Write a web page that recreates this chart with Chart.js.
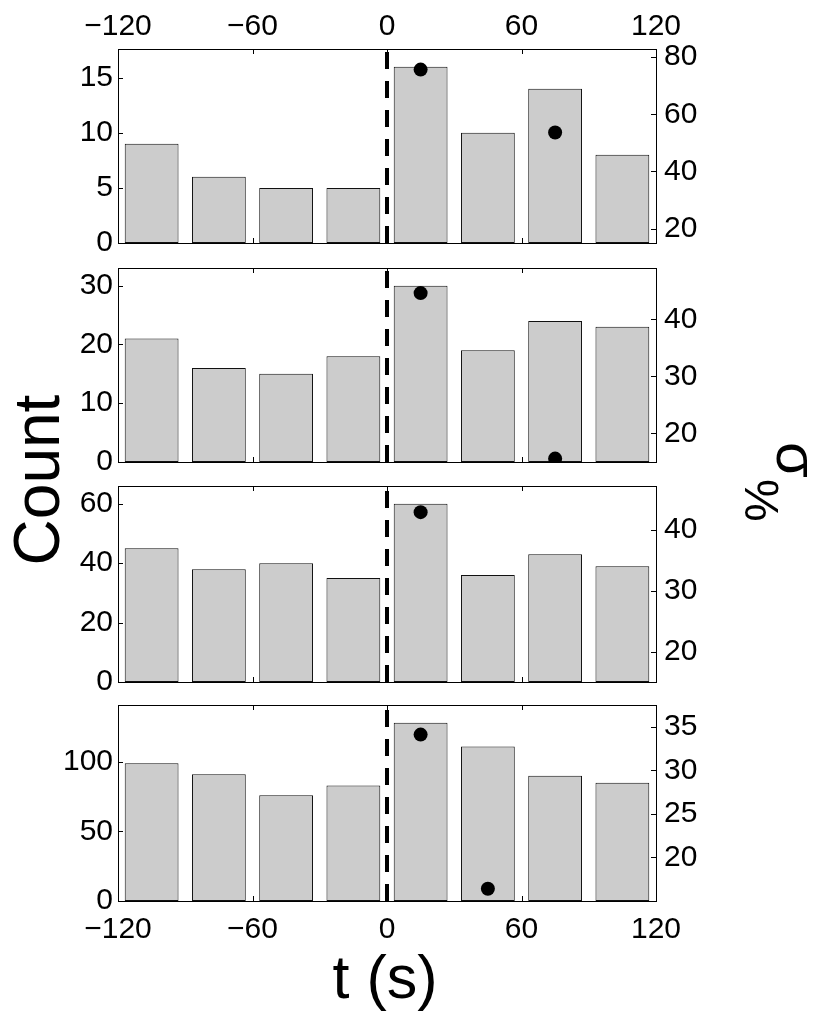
<!DOCTYPE html>
<html>
<head>
<meta charset="utf-8">
<script src="https://cdn.jsdelivr.net/npm/chart.js@4.4.1/dist/chart.umd.min.js"></script>
<style>
body { margin: 0; background: #fff; }
#wrap { position: relative; width: 817px; height: 1014px; }
#wrap canvas { position: absolute; left: 0; top: 0; }
</style>
</head>
<body>
<div id="wrap">
<canvas id="p1" width="817" height="1014"></canvas>
<canvas id="p2" width="817" height="1014"></canvas>
<canvas id="p3" width="817" height="1014"></canvas>
<canvas id="p4" width="817" height="1014"></canvas>
</div>
<script>
// bin centres (s) and counts per panel
let binCenters = [-105, -75, -45, -15, 15, 45, 75, 105];
let counts1 = [9, 6, 5, 5, 16, 10, 14, 8];
let counts2 = [21, 16, 15, 18, 30, 19, 24, 23];
let counts3 = [45, 38, 40, 35, 60, 36, 43, 39];
let counts4 = [99, 91, 76, 83, 128, 111, 90, 85];

// sigma % dots (right axis)
let dotX1 = [15, 75], dotY1 = [75.6, 53.6];
let dotX2 = [15, 75], dotY2 = [44.6, 15.6];
let dotX3 = [15], dotY3 = [42.9];
let dotX4 = [15, 45], dotY4 = [34.1, 16.4];

// tick labels
let xTicks = [-120, -60, 0, 60, 120];
let leftTicks = [[0, 5, 10, 15], [0, 10, 20, 30], [0, 20, 40, 60], [0, 50, 100]];
let rightTicks = [[20, 40, 60, 80], [20, 30, 40], [20, 30, 40], [20, 25, 30, 35]];
let leftMax = [17.6, 33, 66, 140.8];
let rightMin = 15;
let rightMax = [82.8, 49, 47.2, 37.5];

let panelTop = [49, 268, 486, 705];
let panelBottom = [243, 462, 682, 901];

let font = "'Liberation Sans', Arial, Helvetica, sans-serif";

function minus(v) {
    return String(v).replace("-", "\u2212");
}

let frame = {
    id: "frame",
    afterDraw(chart) {
        let ctx = chart.ctx;
        let a = chart.chartArea;
        let s = chart.scales;
        let tl = 5;
        ctx.save();
        ctx.strokeStyle = "#000";
        ctx.lineWidth = 1;
        ctx.strokeRect(a.left + 0.5, a.top + 0.5, a.right - a.left, a.bottom - a.top);
        ctx.beginPath();
        xTicks.forEach(v => {
            let px = Math.round(s.x.getPixelForValue(v)) + 0.5;
            ctx.moveTo(px, a.top); ctx.lineTo(px, a.top + tl);
            ctx.moveTo(px, a.bottom); ctx.lineTo(px, a.bottom - tl);
        });
        s.y.ticks.forEach(t => {
            let py = Math.round(s.y.getPixelForValue(t.value)) + 0.5;
            ctx.moveTo(a.left, py); ctx.lineTo(a.left + tl, py);
        });
        s.y2.ticks.forEach(t => {
            let py = Math.round(s.y2.getPixelForValue(t.value)) + 0.5;
            ctx.moveTo(a.right, py); ctx.lineTo(a.right - tl, py);
        });
        ctx.stroke();
        ctx.restore();
    }
};

let titles = {
    id: "titles",
    afterDraw(chart) {
        let ctx = chart.ctx;
        ctx.save();
        ctx.fillStyle = "#000";
        ctx.textBaseline = "alphabetic";

        ctx.font = "64px " + font;
        ctx.textAlign = "center";
        ctx.save();
        ctx.translate(59, 480);
        ctx.rotate(-Math.PI / 2);
        ctx.fillText("Count", 0, 0);
        ctx.restore();

        ctx.font = "61px " + font;
        ctx.fillText("t (s)", 385, 998);

        ctx.textAlign = "left";
        ctx.font = "58px " + font;
        ctx.save();
        ctx.translate(777, 442);
        ctx.rotate(Math.PI / 2);
        ctx.fillText("\u03c3", 0, 0);
        ctx.restore();

        ctx.font = "48px " + font;
        ctx.save();
        ctx.translate(745, 479);
        ctx.rotate(Math.PI / 2);
        ctx.fillText("%", 0, 0);
        ctx.restore();
        ctx.restore();
    }
};

function makePanel(i, counts, dotX, dotY) {
    let xPos = i == 0 ? "top" : "bottom";
    let showX = i == 0 || i == 3;
    let xAxisH = showX ? 40 : 0;
    let padTop = i == 0 ? panelTop[i] - xAxisH : panelTop[i];
    let padBottom = i == 3 ? 1014 - panelBottom[i] - xAxisH : 1014 - panelBottom[i];

    let data = {
        datasets: [
            {
                type: "line",
                data: dotX.map((x, k) => ({ x: x, y: dotY[k] })),
                yAxisID: "y2",
                showLine: false,
                pointRadius: 7,
                pointBackgroundColor: "#000",
                pointBorderColor: "#000",
                pointBorderWidth: 0,
                order: 1
            },
            {
                type: "line",
                data: [{ x: 0, y: 0 }, { x: 0, y: leftMax[i] }],
                yAxisID: "y",
                borderColor: "#000",
                borderWidth: 4,
                borderDash: [17, 12],
                pointRadius: 0,
                order: 2
            },
            {
                type: "bar",
                data: binCenters.map((x, k) => ({ x: x, y: counts[k] })),
                yAxisID: "y",
                backgroundColor: "#cccccc",
                borderColor: "#111",
                borderWidth: 1,
                borderSkipped: false,
                barPercentage: 0.8,
                categoryPercentage: 1,
                order: 3
            }
        ]
    };

    let options = {
        responsive: false,
        animation: false,
        events: [],
        layout: { padding: { top: padTop, bottom: padBottom, left: 0, right: 0 } },
        plugins: { legend: { display: false }, tooltip: { enabled: false } },
        scales: {
            x: {
                type: "linear",
                position: xPos,
                min: -120,
                max: 120,
                offset: false,
                grid: { display: false, drawTicks: false },
                border: { display: false },
                afterBuildTicks: ax => { ax.ticks = xTicks.map(v => ({ value: v })); },
                afterFit: ax => { ax.height = xAxisH; },
                ticks: {
                    display: showX,
                    autoSkip: false,
                    maxRotation: 0,
                    padding: i == 0 ? 4 : 11,
                    color: "#000",
                    font: { family: font, size: 30 },
                    callback: v => minus(v)
                }
            },
            y: {
                type: "linear",
                position: "left",
                min: 0,
                max: leftMax[i],
                grid: { display: false, drawTicks: false },
                border: { display: false },
                afterBuildTicks: ax => { ax.ticks = leftTicks[i].map(v => ({ value: v })); },
                afterFit: ax => { ax.width = 118; },
                ticks: {
                    padding: 5,
                    color: "#000",
                    font: { family: font, size: 30 }
                }
            },
            y2: {
                type: "linear",
                position: "right",
                min: rightMin,
                max: rightMax[i],
                grid: { display: false, drawTicks: false },
                border: { display: false },
                afterBuildTicks: ax => { ax.ticks = rightTicks[i].map(v => ({ value: v })); },
                afterFit: ax => { ax.width = 817 - 656; },
                ticks: {
                    padding: 8,
                    color: "#000",
                    font: { family: font, size: 30 }
                }
            }
        }
    };

    let plugins = i == 0 ? [frame, titles] : [frame];
    return new Chart(document.getElementById("p" + (i + 1)).getContext("2d"), {
        type: "bar",
        data: data,
        options: options,
        plugins: plugins
    });
}

makePanel(0, counts1, dotX1, dotY1);
makePanel(1, counts2, dotX2, dotY2);
makePanel(2, counts3, dotX3, dotY3);
makePanel(3, counts4, dotX4, dotY4);
</script>
</body>
</html>
